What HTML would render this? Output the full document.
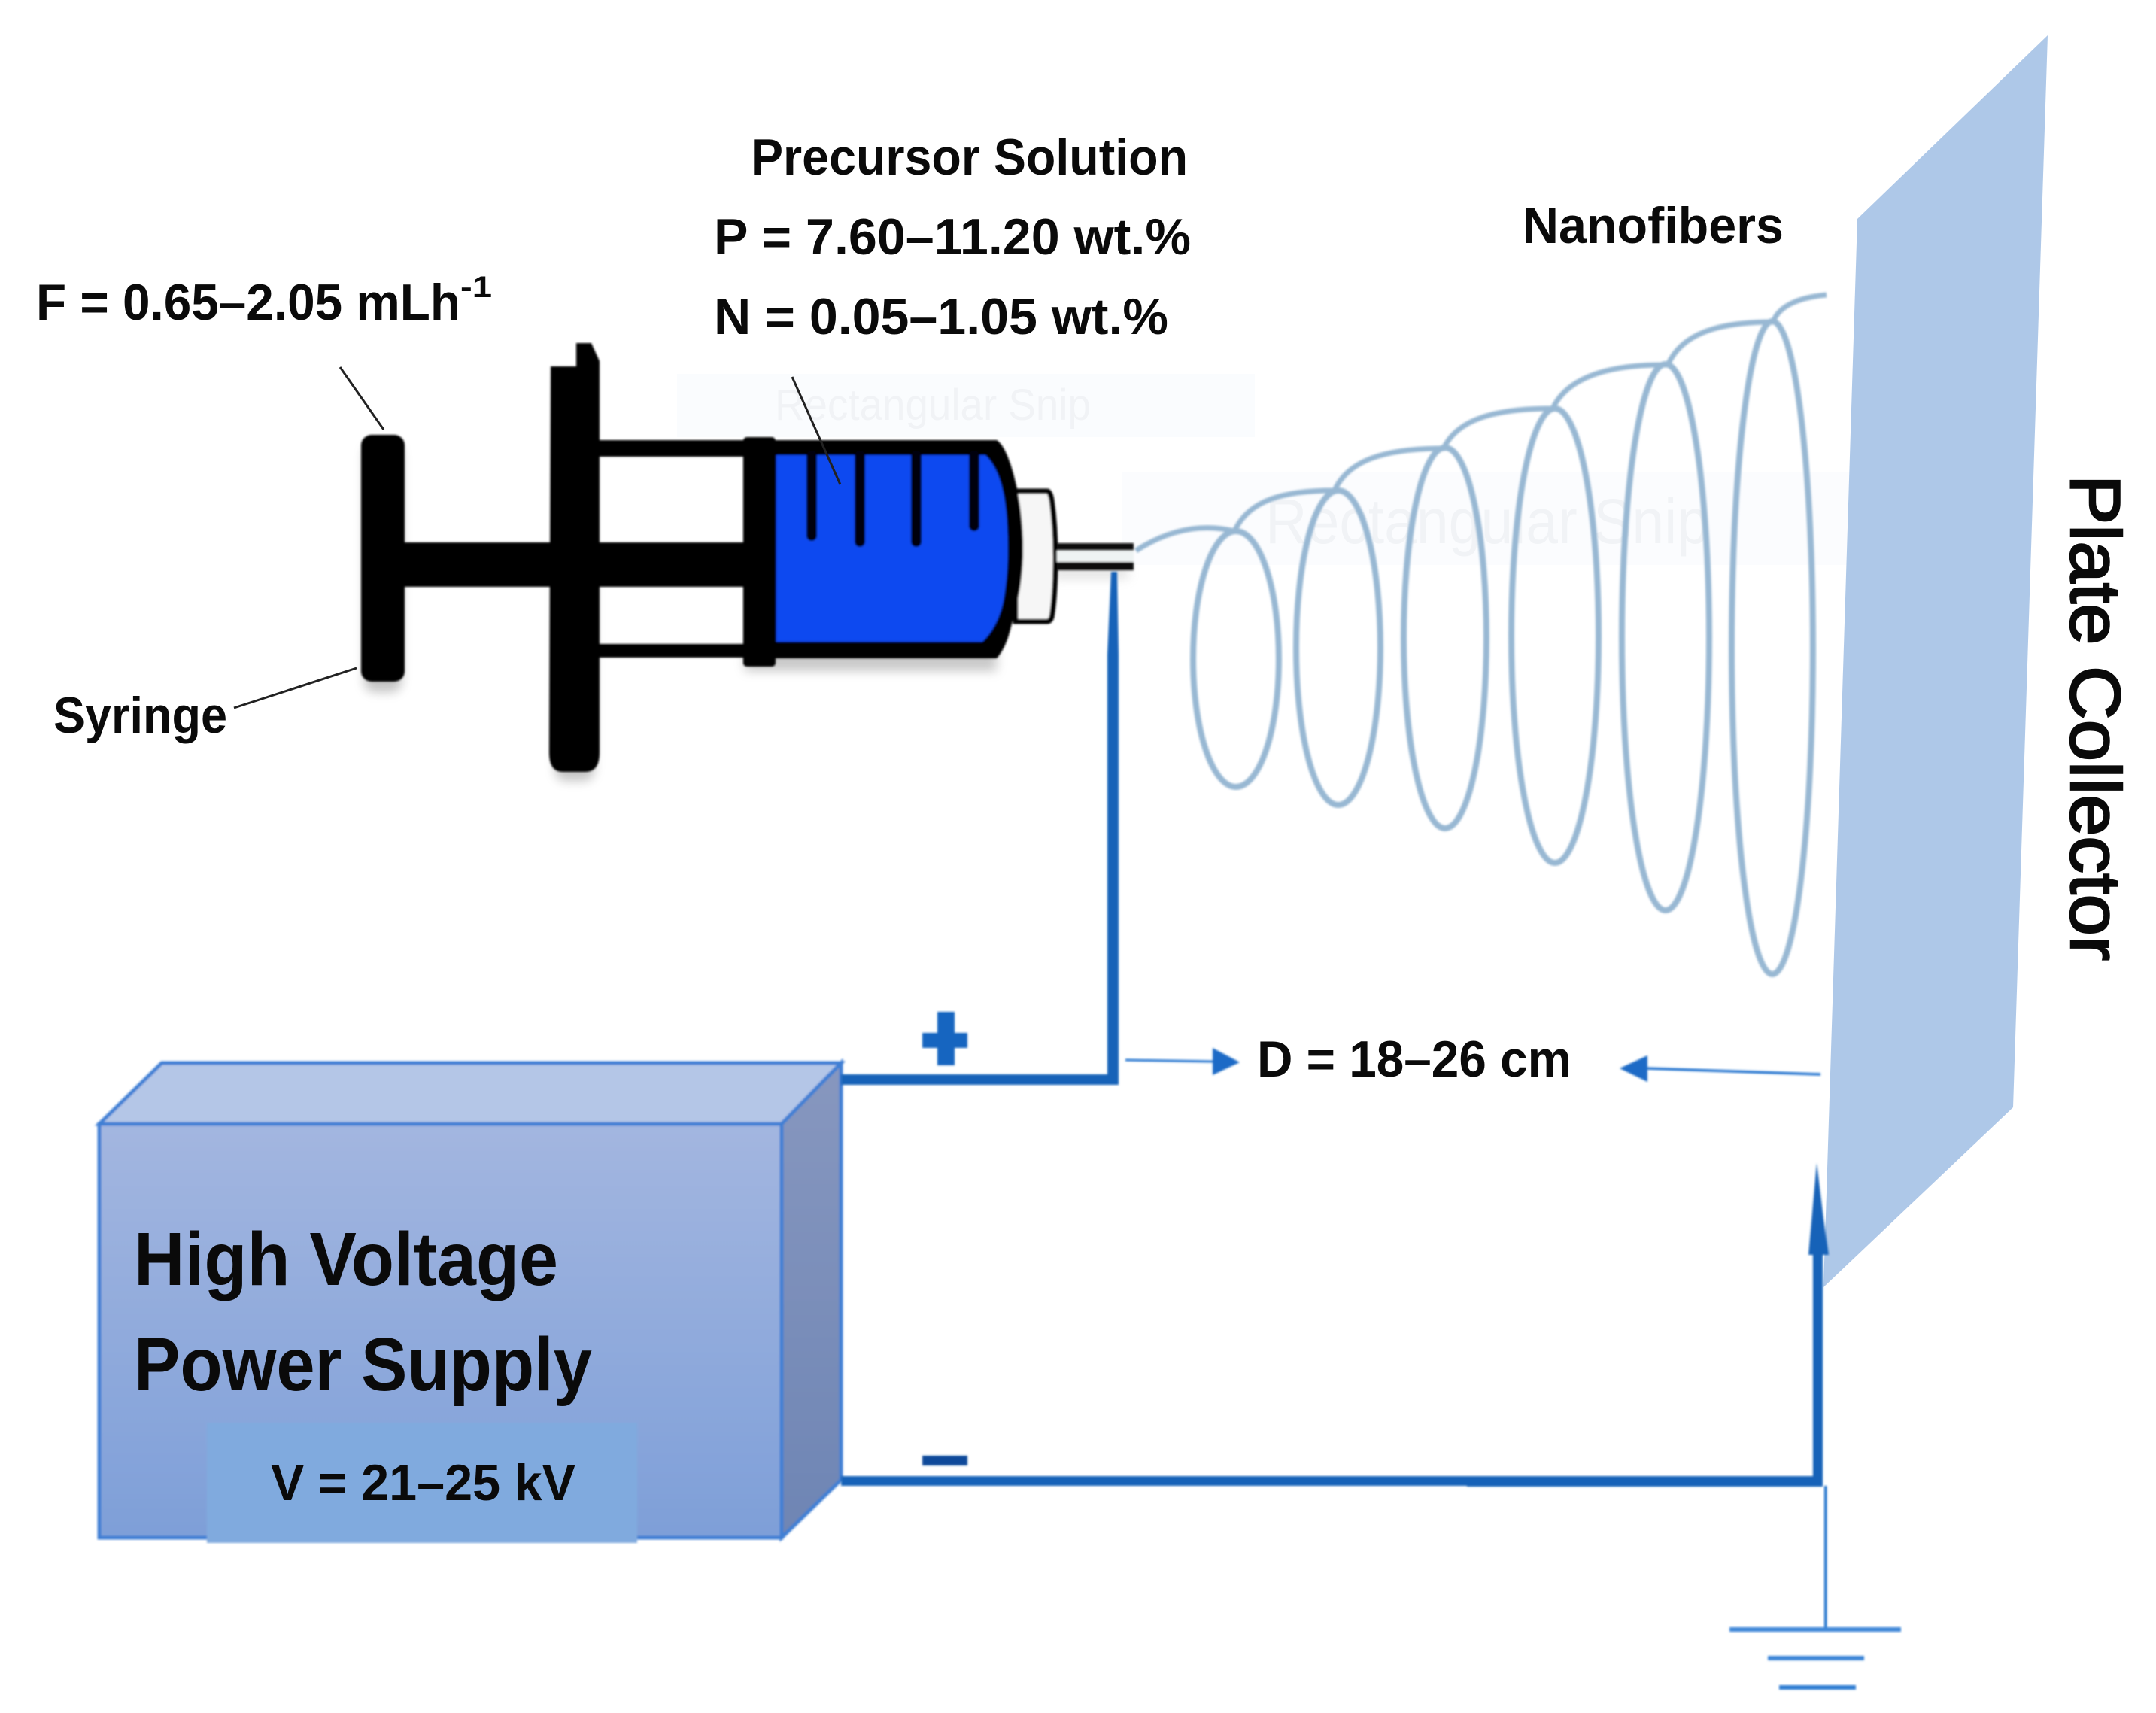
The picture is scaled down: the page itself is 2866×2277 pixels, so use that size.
<!DOCTYPE html>
<html><head><meta charset="utf-8"><style>html,body{margin:0;padding:0;background:#fff}svg{display:block}text{font-family:"Liberation Sans",sans-serif;font-weight:700;fill:#0a0a0a}</style></head><body>
<svg width="2866" height="2277" viewBox="0 0 2866 2277" xmlns="http://www.w3.org/2000/svg">
<defs>
<filter id="b" x="-5%" y="-5%" width="110%" height="110%"><feGaussianBlur stdDeviation="1.4"/></filter>
<filter id="s" x="-20%" y="-40%" width="140%" height="180%"><feGaussianBlur stdDeviation="7"/></filter>
<linearGradient id="f" x1="0" y1="0" x2="0" y2="1"><stop offset="0" stop-color="#a3b6e0"/><stop offset="1" stop-color="#7e9fd8"/></linearGradient>
<linearGradient id="r" x1="0" y1="0" x2="0" y2="1"><stop offset="0" stop-color="#8797bf"/><stop offset="1" stop-color="#6e85b4"/></linearGradient>
</defs>
<rect width="2866" height="2277" fill="#fff"/>
<!-- faint snips -->
<rect x="900" y="497" width="768" height="84" fill="#fafcfe"/>
<rect x="1492" y="628" width="1085" height="123" fill="#fbfcfe"/>
<text x="1030" y="558" font-size="58" textLength="420" lengthAdjust="spacingAndGlyphs" style="fill:#f1f3f6;font-weight:400">Rectangular Snip</text>
<text x="1682" y="722" font-size="84" textLength="590" lengthAdjust="spacingAndGlyphs" style="fill:#f1f3f6;font-weight:400">Rectangular Snip</text>
<!-- plate -->
<polygon points="2722,47 2469,291 2424,1711 2676,1472" fill="#aec8e8"/>
<!-- spiral -->
<g fill="none" stroke="#98b8d3" stroke-width="8" filter="url(#b)">
<ellipse cx="1643" cy="876" rx="57" ry="170"/>
<ellipse cx="1779" cy="861" rx="56" ry="209"/>
<ellipse cx="1921" cy="848" rx="55" ry="253"/>
<ellipse cx="2067" cy="845" rx="58" ry="302"/>
<ellipse cx="2214" cy="847" rx="58" ry="363"/>
<ellipse cx="2356" cy="861" rx="54" ry="434"/>
<path d="M1510 732Q1575 690 1641 706C1660 665 1705 652 1774 652C1792 612 1840 596 1919 596C1937 558 1985 543 2064 543C2082 505 2130 484 2217 485C2235 445 2280 428 2357 428C2365 405 2395 395 2428 392" stroke-width="7"/>
</g>
<!-- syringe -->
<g filter="url(#s)" opacity=".35"><rect x="484" y="590" width="50" height="330" rx="14" fill="#555"/><rect x="738" y="720" width="52" height="318" rx="14" fill="#555"/><rect x="990" y="860" width="335" height="32" fill="#666"/><rect x="1400" y="755" width="100" height="14" fill="#aaa"/></g>
<g filter="url(#b)">
<path d="M1350 653H1392Q1396 653 1398 665Q1403 700 1403 740Q1403 790 1398 820Q1396 826 1392 826H1350Z" fill="#f6f6f6" stroke="#050505" stroke-width="7"/>
<path d="M1000 585H1325Q1340 595 1352 650Q1360 690 1360 730Q1360 780 1344 833Q1338 860 1325 875H1000Z" fill="#000"/>
<path d="M1032 605H1310Q1336 630 1339 700Q1342 760 1333 803Q1325 835 1306 853H1032Z" fill="#0a4af0"/>
<rect x="796" y="585" width="200" height="22" fill="#050505"/>
<rect x="796" y="856" width="200" height="18" fill="#050505"/>
<rect x="988" y="581" width="43" height="305" rx="5" fill="#000"/>
<rect x="530" y="721" width="470" height="59" fill="#000"/>
<rect x="480" y="578" width="58" height="328" rx="14" fill="#000"/>
<path d="M732 487H766V456H786L797 480V1000Q797 1026 778 1026H748Q730 1026 730 1000Z" fill="#000"/>
<path d="M1079 606V712M1143 606V720M1218 606V720M1295 606V699" stroke="#050510" stroke-width="14" stroke-linecap="round" fill="none"/>
<rect x="1405" y="722" width="102" height="36" fill="#eef3f3"/>
<rect x="1405" y="722" width="102" height="10" fill="#0a0a0a"/>
<rect x="1405" y="747" width="102" height="11" fill="#0a0a0a"/>
</g>
<g stroke="#222" stroke-width="3" fill="none">
<path d="M1053 501L1117 644"/><path d="M452 488L510 571"/><path d="M474 888L311 941"/>
</g>
<!-- power supply -->
<g filter="url(#b)">
<polygon points="132,1494 215,1413 1118,1413 1039,1494" fill="#b4c6e7" stroke="#3f7fd4" stroke-width="5"/>
<polygon points="1039,1494 1118,1413 1118,1967 1039,2044" fill="url(#r)" stroke="#3f7fd4" stroke-width="5"/>
<rect x="132" y="1494" width="907" height="550" fill="url(#f)" stroke="#3f7fd4" stroke-width="5"/>
<rect x="275" y="1891" width="572" height="160" fill="#80aade"/>
</g>
<text x="178" y="1708" font-size="100" textLength="564" lengthAdjust="spacingAndGlyphs">High Voltage</text>
<text x="178" y="1848" font-size="100" textLength="609" lengthAdjust="spacingAndGlyphs">Power Supply</text>
<text x="360" y="1994" font-size="68" textLength="405" lengthAdjust="spacingAndGlyphs">V = 21–25 kV</text>
<!-- wires -->
<g filter="url(#b)" fill="#1762b8">
<polygon points="1118,1428 1472,1428 1472,870 1477,760 1485,760 1487,870 1487,1442 1118,1442"/>
<rect x="1118" y="1962" width="1305" height="13"/>
<rect x="1950" y="1968" width="473" height="8"/>
<rect x="2410" y="1660" width="13" height="315"/>
<polygon points="2415,1546 2404,1668 2431,1668 2424,1620"/>
<rect x="2425" y="1975" width="3.5" height="191" fill="#2272cc"/>
<rect x="2299" y="2163" width="228" height="6" fill="#3d86d8"/>
<rect x="2350" y="2201" width="128" height="6" fill="#3d86d8"/>
<rect x="2365" y="2240" width="102" height="6" fill="#2f7cd2"/>
<path d="M1246 1345H1269V1373H1286V1393H1269V1416H1246V1393H1226V1373H1246Z" fill="#1565c0"/>
<rect x="1226" y="1935" width="60" height="13" fill="#0a4a9a"/>
<path d="M1496 1409L1612 1411" stroke="#2a78d0" stroke-width="3" fill="none"/>
<polygon points="1612,1393 1648,1412 1612,1429" fill="#1a6bc6"/>
<path d="M2420 1428L2188 1420" stroke="#2a78d0" stroke-width="3.5" fill="none"/>
<polygon points="2190,1403 2153,1420 2190,1438" fill="#1a6bc6"/>
</g>
<!-- labels -->
<text x="998" y="232" font-size="68" textLength="581" lengthAdjust="spacingAndGlyphs">Precursor Solution</text>
<text x="949" y="338" font-size="68" textLength="634" lengthAdjust="spacingAndGlyphs">P = 7.60–11.20 wt.%</text>
<text x="949" y="444" font-size="68" textLength="604" lengthAdjust="spacingAndGlyphs">N = 0.05–1.05 wt.%</text>
<text x="48" y="425" font-size="68" textLength="564" lengthAdjust="spacingAndGlyphs">F = 0.65–2.05 mLh</text>
<text x="612" y="395" font-size="40" textLength="42" lengthAdjust="spacingAndGlyphs">-1</text>
<text x="71" y="974" font-size="68" textLength="231" lengthAdjust="spacingAndGlyphs">Syringe</text>
<text x="2024" y="323" font-size="68" textLength="347" lengthAdjust="spacingAndGlyphs">Nanofibers</text>
<text x="1671" y="1431" font-size="68" textLength="418" lengthAdjust="spacingAndGlyphs">D = 18–26 cm</text>
<text transform="translate(2753 631) rotate(90)" font-size="94" textLength="646" lengthAdjust="spacingAndGlyphs" style="font-weight:400;stroke:#0a0a0a;stroke-width:2.5">Plate Collector</text>
</svg>
</body></html>
